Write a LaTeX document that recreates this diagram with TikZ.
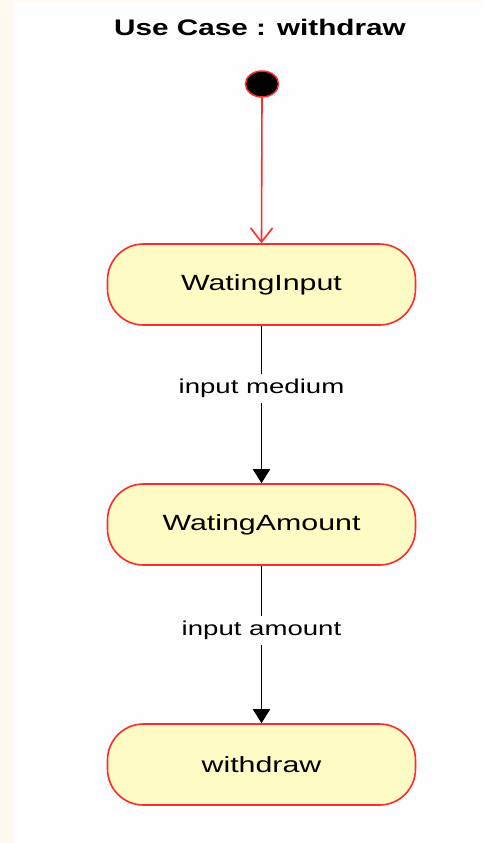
\documentclass[tikz,border=0pt]{standalone}
\usepackage{fontspec}
\setmainfont{Liberation Sans}
\usetikzlibrary{arrows.meta,shapes.geometric}
\definecolor{statefill}{HTML}{FFFBC4}
\definecolor{statered}{HTML}{FF2A2A}
\definecolor{cream}{HTML}{FFF9F0}
\definecolor{paper}{HTML}{FEFEFE}
\newcommand{\wide}[2][1.38]{\scalebox{#1}[1]{#2}}
\tikzset{
  statebox/.style={draw=statered, fill=statefill, line width=1.6pt,
    minimum width=308pt, minimum height=81pt, rounded corners=36pt,
    inner sep=0pt, font=\fontsize{22}{26}\selectfont},
  initdot/.style={ellipse, draw=statered, fill=black, line width=1.5pt,
    minimum width=33pt, minimum height=26pt, inner sep=0pt},
  trans/.style={draw=black, line width=1.8pt, -{Triangle[length=14pt,width=17pt]}},
  inittrans/.style={draw=statered, line width=1.6pt, -{Straight Barb[length=14pt,width=22pt,line width=1.6pt]}},
  tlabel/.style={fill=paper, inner xsep=2pt, inner ysep=5pt, font=\fontsize{20}{24}\selectfont},
  titletext/.style={font=\bfseries\fontsize{22.5}{27}\selectfont}
}
\begin{document}
\begin{tikzpicture}[x=1pt,y=-1pt]
  \fill[paper] (0,0) rectangle (482,843);
  \fill[cream] (0,0) rectangle (14,843);
  \fill[cream] (0,0) rectangle (482,2);
  \useasboundingbox (0,0) rectangle (482,843);

  \node[titletext] (title) at (260,27) {\wide[1.32]{Use Case : withdraw}};
  \node[initdot] (init) at (262,84) {};
  \node[statebox] (s1) at (261.5,284.5) {\wide{WatingInput}};
  \node[statebox] (s2) at (261.5,524.5) {\wide{WatingAmount}};
  \node[statebox] (s3) at (261.5,764.5) {\wide{withdraw}};

  \draw[inittrans] (init.south) -- (s1.north);
  \draw[trans] (s1.south) -- node[tlabel, pos=0.40] {\wide{input medium}} (s2.north);
  \draw[trans] (s2.south) -- node[tlabel, pos=0.41] {\wide{input amount}} (s3.north);
\end{tikzpicture}
\end{document}
